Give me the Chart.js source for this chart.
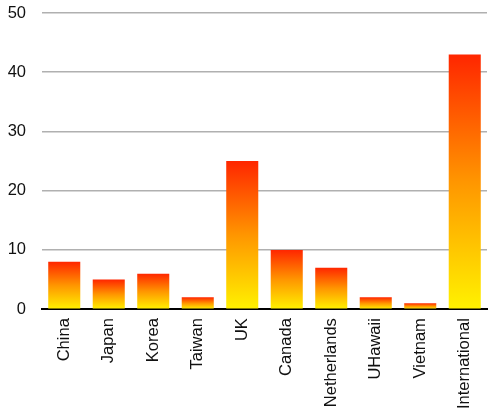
<!DOCTYPE html>
<html>
<head>
<meta charset="utf-8">
<script src="https://cdn.jsdelivr.net/npm/chart.js@4/dist/chart.umd.min.js"></script>
<style>
  body { margin: 0; background: #fff; }
  #wrap { width: 493px; height: 415px; }
</style>
</head>
<body>
<div id="wrap"><canvas id="my_chart"></canvas></div>
<script>
const categories = ["China", "Japan", "Korea", "Taiwan", "UK", "Canada", "Netherlands", "UHawaii", "Vietnam", "International"];
const counts = [8, 5, 6, 2, 25, 10, 7, 2, 1, 43];
const yTicks = [0, 10, 20, 30, 40, 50];

// each bar gets its own yellow -> red gradient
function barGradient(context) {
  const chart = context.chart;
  const y = chart.scales.y;
  if (!y || context.dataIndex === undefined) return "rgb(255,120,0)";
  const top = y.getPixelForValue(context.raw);
  const bottom = y.getPixelForValue(0);
  if (!isFinite(top) || !isFinite(bottom) || top === bottom) return "rgb(255,120,0)";
  const g = chart.ctx.createLinearGradient(0, bottom, 0, top);
  g.addColorStop(0, "rgb(255,242,0)");
  g.addColorStop(0.5, "rgb(255,150,0)");
  g.addColorStop(1, "rgb(255,38,0)");
  return g;
}

const ctx = document.getElementById("my_chart");
new Chart(ctx, {
  type: "bar",
  data: {
    labels: categories,
    datasets: [
      {
        data: counts,
        backgroundColor: barGradient,
        borderWidth: 0,
        barPercentage: 0.72,
        categoryPercentage: 1,
      },
    ],
  },
  options: {
    responsive: true,
    maintainAspectRatio: false,
    animation: false,
    layout: { padding: { top: 13, right: 6, left: 2, bottom: 5 } },
    plugins: { legend: { display: false }, tooltip: { enabled: false } },
    scales: {
      x: {
        grid: { display: false },
        border: { color: "#000", width: 2 },
        afterFit: (axis) => {
          axis.paddingLeft = 0;
          axis.paddingRight = 0;
        },
        ticks: {
          color: "#111",
          font: { family: "Liberation Sans, Arial", size: 16.5 },
          minRotation: 90,
          maxRotation: 90,
          autoSkip: false,
          padding: 1,
        },
      },
      y: {
        min: 0,
        max: 50,
        afterBuildTicks: (axis) => {
          axis.ticks = yTicks.map((v) => ({ value: v }));
        },
        afterFit: (axis) => {
          axis.width = 40;
          axis.paddingTop = 0;
          axis.paddingBottom = 0;
        },
        grid: { color: "#b0b0b0", lineWidth: 1.5, drawTicks: false },
        border: { display: false },
        ticks: {
          color: "#111",
          font: { family: "Liberation Sans, Arial", size: 16.5 },
          padding: 16,
        },
      },
    },
  },
});
</script>
</body>
</html>
